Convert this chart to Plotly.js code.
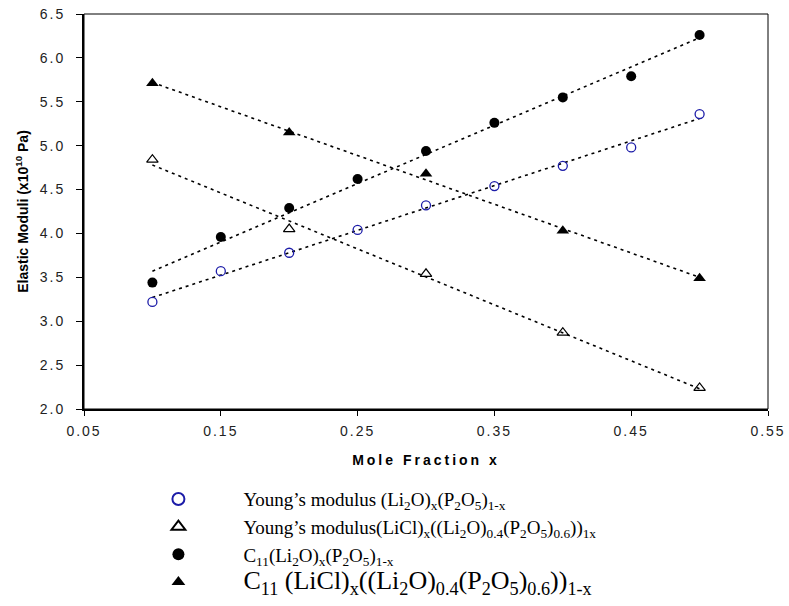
<!DOCTYPE html>
<html>
<head>
<meta charset="utf-8">
<script src="https://cdn.plot.ly/plotly-3.0.1.min.js"></script>
<style>
  body { margin: 0; background: #fff; }
  #chart { width: 789px; height: 606px; }
  .xtick text, .ytick text { letter-spacing: 2px; }
  .g-xtitle text { letter-spacing: 3px; }
</style>
</head>
<body>
<div id="chart"></div>
<script>
// Data
const xFine = [0.10, 0.15, 0.20, 0.25, 0.30, 0.35, 0.40, 0.45, 0.50];
const xCoarse = [0.10, 0.20, 0.30, 0.40, 0.50];

const youngLi2O = [3.22, 3.57, 3.78, 4.04, 4.32, 4.54, 4.77, 4.98, 5.36];
const c11Li2O   = [3.44, 3.96, 4.29, 4.62, 4.94, 5.26, 5.55, 5.79, 6.26];
const youngLiCl = [4.84, 4.05, 3.54, 2.87, 2.24];
const c11LiCl   = [5.71, 5.15, 4.68, 4.03, 3.49];

// Trend line end points (x = 0.1 and x = 0.5)
const fitX = [0.10, 0.50];
const fitYoungLi2O = [3.27, 5.31];
const fitC11Li2O   = [3.57, 6.23];
const fitYoungLiCl = [4.78, 2.23];
const fitC11LiCl   = [5.72, 3.50];

const names = [
  "Young’s modulus (Li<sub>2</sub>O)<sub>x</sub>(P<sub>2</sub>O<sub>5</sub>)<sub>1-x</sub>",
  "Young’s modulus(LiCl)<sub>x</sub>((Li<sub>2</sub>O)<sub>0.4</sub>(P<sub>2</sub>O<sub>5</sub>)<sub>0.6</sub>))<sub>1x</sub>",
  "C<sub>11</sub>(Li<sub>2</sub>O)<sub>x</sub>(P<sub>2</sub>O<sub>5</sub>)<sub>1-x</sub>",
  "<span style='font-size:26px'>C<sub>11</sub> (LiCl)<sub>x</sub>((Li<sub>2</sub>O)<sub>0.4</sub>(P<sub>2</sub>O<sub>5</sub>)<sub>0.6</sub>))<sub>1-x</sub></span>"
];

const xTicks = [0.05, 0.15, 0.25, 0.35, 0.45, 0.55];
const yTicks = [2.0, 2.5, 3.0, 3.5, 4.0, 4.5, 5.0, 5.5, 6.0, 6.5];

const fitLine = { color: "#000", width: 1.6, dash: "3px,4px" };
function fit(y) {
  return { x: fitX, y: y, mode: "lines", line: fitLine, showlegend: false, hoverinfo: "skip" };
}

const traces = [
  fit(fitYoungLi2O), fit(fitC11Li2O), fit(fitYoungLiCl), fit(fitC11LiCl),
  { x: xFine, y: youngLi2O, mode: "markers", name: names[0],
    marker: { symbol: "circle-open", size: 9, color: "#1c1ca8", line: { width: 1.3, color: "#1c1ca8" } } },
  { x: xCoarse, y: youngLiCl, mode: "markers", name: names[1],
    marker: { symbol: "triangle-up-open", size: 10, color: "#000", line: { width: 1.2, color: "#000" } } },
  { x: xFine, y: c11Li2O, mode: "markers", name: names[2],
    marker: { symbol: "circle", size: 10, color: "#000" } },
  { x: xCoarse, y: c11LiCl, mode: "markers", name: names[3],
    marker: { symbol: "triangle-up", size: 11, color: "#000" } }
];

const layout = {
  width: 789, height: 606,
  margin: { l: 84, r: 21, t: 14, b: 197, autoexpand: false },
  paper_bgcolor: "#fff", plot_bgcolor: "#fff",
  showlegend: true,
  font: { family: "Liberation Sans, Arial, sans-serif", color: "#111" },
  xaxis: {
    range: [0.05, 0.55], tickvals: xTicks, tickformat: ".2f",
    showgrid: false, zeroline: false,
    showline: true, linecolor: "#000", linewidth: 2,
    ticks: "outside", ticklen: 5, tickcolor: "#000", tickwidth: 1,
    ticklabelstandoff: 3,
    tickfont: { size: 14, color: "#222" },
    title: { text: "Mole Fraction x", font: { size: 14, weight: "bold", color: "#000" }, standoff: 17 }
  },
  yaxis: {
    range: [2.0, 6.5], tickvals: yTicks, tickformat: ".1f",
    showgrid: false, zeroline: false,
    showline: true, linecolor: "#000", linewidth: 2,
    ticks: "outside", ticklen: 6, tickcolor: "#000", tickwidth: 1,
    ticklabelstandoff: 8,
    tickfont: { size: 14, color: "#222" },
    title: { text: "Elastic Moduli (x10<sup>10</sup> Pa)", font: { size: 14, weight: "bold", color: "#000" }, standoff: 8 }
  },
  shapes: [
    { type: "rect", xref: "paper", yref: "paper", x0: 0, x1: 1, y0: 0, y1: 1,
      line: { color: "#000", width: 1 } }
  ],
  legend: {
    x: 0.043, xanchor: "left", y: -0.180, yanchor: "top",
    bgcolor: "rgba(0,0,0,0)", borderwidth: 0,
    itemwidth: 120, itemsizing: "constant",
    font: { family: "Liberation Serif, Times New Roman, serif", size: 19, color: "#000" },
    tracegroupgap: 0
  }
};

Plotly.newPlot("chart", traces, layout, { displayModeBar: false, staticPlot: true });
</script>
</body>
</html>
